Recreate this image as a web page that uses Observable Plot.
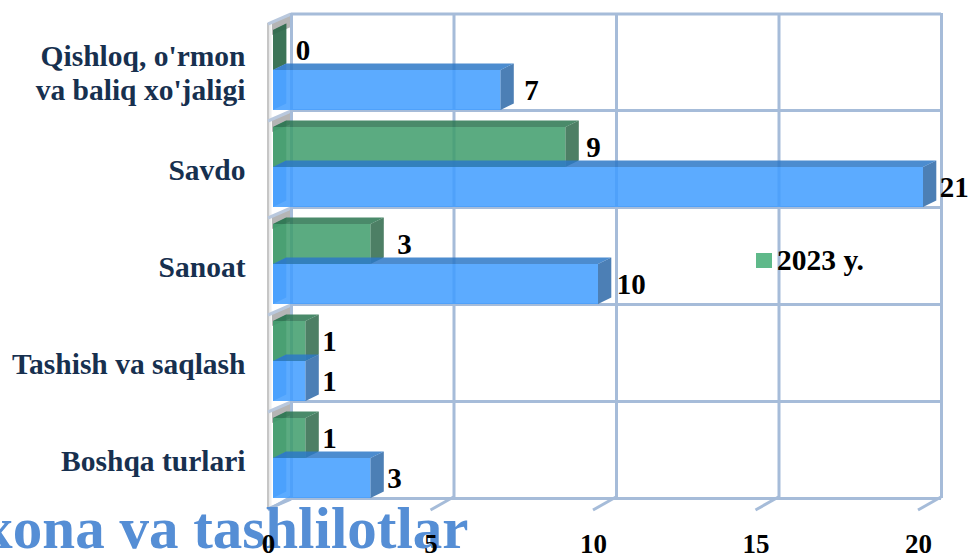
<!DOCTYPE html>
<html><head><meta charset="utf-8">
<script src="https://cdn.jsdelivr.net/npm/d3@7"></script>
<script src="https://cdn.jsdelivr.net/npm/@observablehq/plot@0.6"></script>
<style>
html,body{margin:0;padding:0;background:#fff;overflow:hidden}
#wrap{position:relative;width:968px;height:553px;overflow:hidden}
#legend{position:absolute;left:756px;top:244px;display:flex;align-items:center;gap:5px;font:bold 29.5px "Liberation Serif",serif;color:#000;line-height:32px}
#legend i{display:block;width:16px;height:15px;background:#5fb98a}
</style></head>
<body><div id="wrap"><div id="chart"></div>
<div id="legend"><i></i><span>2023 y.</span></div></div>
<script>
const categories = ["Qishloq, o'rmon\nva baliq xo'jaligi","Savdo","Sanoat","Tashish va saqlash","Boshqa turlari"];
const values2023 = [0,9,3,1,1];
const valuesOther = [7,21,10,1,3];
const xTicks = [0,5,10,15,20];
const overlayTitle = "xona va tashlilotlar";

const rows = s => s.map((v,i)=>({cat:categories[i],v}));
const green = rows(values2023), blue = rows(valuesOther);
// extra label offset, purely cosmetic
const greenDx = [9,7,13,3,3], blueDx = [10,3,5,3,3];

const DX=13.3, DY=6.5, FONT='"Liberation Serif",serif', GRID="#a6bcd9";
const stepOf = dims => (dims.height-dims.marginTop-dims.marginBottom)/categories.length;
function box(data,{insetTop,insetBottom,front,top,side,end}){
  return Plot.barX(data,{x:"v",y:"cat",fill:front,fillOpacity:.85,insetTop,insetBottom,
    render(index,scales,values,dims,ctx,next){
      const g=d3.create("svg:g");
      const h=stepOf(dims);
      const poly=(pts,c,o=.85)=>g.append("polygon").attr("points",pts.map(p=>p.join(",")).join(" ")).attr("fill",c).attr("fill-opacity",o);
      const x0=scales.x(0);
      for(const i of index){
        const b=values.y[i]+insetTop, e=values.y[i]+h-insetBottom;
        poly([[x0,b],[x0+DX,b-DY],[x0+DX,e-DY],[x0,e]],end,.5);
      }
      g.node().append(next(index,scales,values,dims,ctx));
      for(const i of index){
        const b=values.y[i]+insetTop, e=values.y[i]+h-insetBottom, x=values.x2[i];
        poly([[x,b],[x+DX,b-DY],[x+DX,e-DY],[x,e]],side);
        if(x>x0) poly([[x0,b],[x0+DX,b-DY],[x+DX,b-DY],[x,b]],top);
      }
      return g.node();
    }});
}
// slanted floor pieces under each x tick, from the front edge to the back wall
const floorTicks = Plot.ruleX(xTicks,{x:d=>d,render(index,scales,values,dims){
  const g=d3.create("svg:g").attr("stroke",GRID).attr("stroke-width",3);
  for(const i of index){const x=values.x[i];
    g.append("line").attr("x1",x-5).attr("x2",x+18).attr("y1",dims.height-dims.marginBottom+12).attr("y2",dims.height-dims.marginBottom-1);}
  return g.node();
}});
// left wall with a shelf for each horizontal grid line
const wall = Plot.ruleX([0],{x:d=>d,render(index,scales,values,dims){
  const g=d3.create("svg:g");
  const x0=dims.marginLeft;
  const h=stepOf(dims);
  const ys=categories.map(c=>scales.y(c));
  ys.push(ys[ys.length-1]+h);
  g.append("rect").attr("x",x0-6).attr("y",ys[0]+10).attr("width",2.5).attr("height",ys[5]-ys[0]).attr("fill","#c6c6c6");
  g.append("rect").attr("x",x0-3.5).attr("y",ys[0]+10).attr("width",2).attr("height",ys[5]-ys[0]).attr("fill","#eeeeee");
  ys.forEach((y,k)=>{
    if(k<5) g.append("polygon").attr("points",`${x0-1},${y+10} ${x0+18},${y+2} ${x0+18},${y+14} ${x0-1},${y+22}`).attr("fill","#b5b5b5");
    g.append("line").attr("x1",x0-5).attr("x2",x0+18).attr("y1",y+11).attr("y2",y+1).attr("stroke",k==5?GRID:"#b9c8dd").attr("stroke-width",3);
  });
  return g.node();
}});

const plot = Plot.plot({
  width:968,height:553,
  marginLeft:273,marginRight:45,marginTop:13,marginBottom:55,
  style:{background:"transparent",fontFamily:FONT},
  x:{domain:[0,20],clamp:true,axis:null},
  y:{type:"band",domain:categories,padding:0,axis:null},
  marks:[
    wall,
    Plot.ruleX(xTicks,{x:d=>d,dx:18,stroke:GRID,strokeWidth:3}),
    Plot.ruleY(categories,{y:d=>d,dy:48.5,x1:0,x2:20,dx:18,stroke:GRID,strokeWidth:3}),
    Plot.ruleY(categories.slice(0,1),{y:d=>d,dy:-48,x1:0,x2:20,dx:18,stroke:GRID,strokeWidth:3}),
    floorTicks,
    box(green,{insetTop:17,insetBottom:40,front:"#3e9c6b",top:"#2a7650",side:"#2e694a",end:"#1f6b45"}),
    box(blue,{insetTop:57,insetBottom:0,front:"#3f9cff",top:"#2d78c7",side:"#2d69a8",end:"#1f78e0"}),
    ...green.map((d,i)=>Plot.text([d],{x:"v",y:"cat",text:d=>String(d.v),textAnchor:"start",dx:13.3+greenDx[i],dy:-11,fontSize:29,fontWeight:"bold",fill:"#000"})),
    ...blue.map((d,i)=>Plot.text([d],{x:"v",y:"cat",text:d=>String(d.v),textAnchor:"start",dx:13.3+blueDx[i],dy:29,fontSize:29,fontWeight:"bold",fill:"#000"})),
    Plot.axisY({anchor:"left",tickSize:0,tickPadding:28,fontSize:29.5,lineHeight:1.15,fontWeight:"bold",fill:"#17304f",dy:10.5,label:null,textOverflow:null}),
    Plot.text([overlayTitle],{frameAnchor:"bottom-left",dx:195,dy:49,textAnchor:"end",fontSize:59,fontWeight:"bold",fill:"#558ed5"}),
    Plot.axisX({anchor:"bottom",ticks:xTicks,tickSize:0,tickPadding:0,dy:35,dx:-5,fontSize:27,fontWeight:"bold",fill:"#000",label:null,tickFormat:d=>String(d)})
  ]
});
document.getElementById("chart").append(plot);
</script>
</body></html>
